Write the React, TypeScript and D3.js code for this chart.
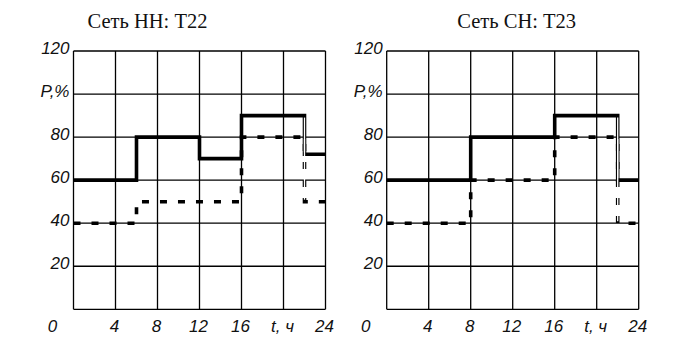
import React from "react";
import * as d3 from "d3";

// Load profiles of the two transformer networks, P in % over a day
const hoursNN = [0, 6, 12, 16, 22, 24];
const solidNN = [60, 80, 70, 90, 72];
const dashedNN = [40, 50, 50, 80, 50];

const hoursCH = [0, 8, 16, 22, 24];
const solidCH = [60, 80, 90, 60];
const dashedCH = [40, 60, 80, 40];

const xTicks = [0, 4, 8, 12, 16, 20, 24];
const xTickLabels = ["0", "4", "8", "12", "16", "t, ч", "24"];
const yTicks = [0, 20, 40, 60, 80, 100, 120];
const yTickLabels = ["", "20", "40", "60", "80", "P,%", "120"];

const titles = ["Сеть НН: Т22", "Сеть СН: Т23"];

type PanelProps = {
  left: number;
  titleX: number;
  title: string;
  hours: number[];
  solid: number[];
  dashed: number[];
};

const TOP = 51;
const BOTTOM = 309.3;
const WIDTH = 252;

function toPoints(hours: number[], vals: number[]): [number, number][] {
  const pts: [number, number][] = vals.map((v, i) => [hours[i], v]);
  pts.push([hours[hours.length - 1], vals[vals.length - 1]]);
  return pts;
}

function Panel({ left, titleX, title, hours, solid, dashed }: PanelProps) {
  const x = d3.scaleLinear().domain([0, 24]).range([left, left + WIDTH]);
  const y = d3.scaleLinear().domain([0, 120]).range([BOTTOM, TOP]);
  const line = d3
    .line<[number, number]>()
    .x((d) => x(d[0]))
    .y((d) => y(d[1]))
    .curve(d3.curveStepAfter);

  const labelFont = {
    fontFamily: "'Liberation Sans', Arial, sans-serif",
    fontStyle: "italic" as const,
    fontSize: 17,
    fill: "#111",
  };

  // the last switching moment is drawn as a hollow double stroke
  const lastIdx = solid.length - 1;
  const tLast = hours[lastIdx];
  const hollow = [
    [solid[lastIdx - 1], solid[lastIdx]],
    [dashed[lastIdx - 1], dashed[lastIdx]],
  ];

  return (
    <g>
      <text
        x={titleX}
        y={28}
        textAnchor="middle"
        style={{ fontFamily: "'Liberation Serif', 'Times New Roman', serif", fontSize: 20.5, fill: "#111" }}
      >
        {title}
      </text>
      {/* grid */}
      {xTicks.map((t) => (
        <line key={"vx" + t} x1={x(t)} x2={x(t)} y1={y(0)} y2={y(120)} stroke="#000" strokeWidth={1.3} />
      ))}
      {yTicks.map((t) => (
        <line key={"hy" + t} x1={x(0)} x2={x(24)} y1={y(t)} y2={y(t)} stroke="#000" strokeWidth={1.3} />
      ))}
      {/* series */}
      <path d={line(toPoints(hours, dashed)) || ""} fill="none" stroke="#000" strokeWidth={3.6} strokeDasharray="7,11" />
      <path d={line(toPoints(hours, solid)) || ""} fill="none" stroke="#000" strokeWidth={3.6} />
      {hollow.map(([a, b], i) => (
        <line
          key={"h" + i}
          x1={x(tLast)}
          x2={x(tLast)}
          y1={y(Math.max(a, b)) + 2}
          y2={y(Math.min(a, b)) - 2}
          stroke="#fff"
          strokeWidth={1.3}
        />
      ))}
      {/* y labels */}
      {yTicks.map((t, i) =>
        yTickLabels[i] ? (
          <text key={"yl" + t} x={x(0) - 4} y={y(t) + 3} textAnchor="end" style={labelFont}>
            {yTickLabels[i]}
          </text>
        ) : null
      )}
      {/* x labels */}
      {xTicks.map((t, i) => (
        <text
          key={"xl" + t}
          x={t === 0 ? x(0) - 21 : x(t) - 1}
          y={332}
          textAnchor="middle"
          style={labelFont}
        >
          {xTickLabels[i]}
        </text>
      ))}
    </g>
  );
}

export default function App() {
  return (
    <svg width={680} height={343} style={{ position: "absolute", left: 0, top: 0, background: "#fff" }}>
      <rect width={680} height={343} fill="#fff" />
      <Panel left={73.5} titleX={147.5} title={titles[0]} hours={hoursNN} solid={solidNN} dashed={dashedNN} />
      <Panel left={386.7} titleX={516.7} title={titles[1]} hours={hoursCH} solid={solidCH} dashed={dashedCH} />
    </svg>
  );
}
